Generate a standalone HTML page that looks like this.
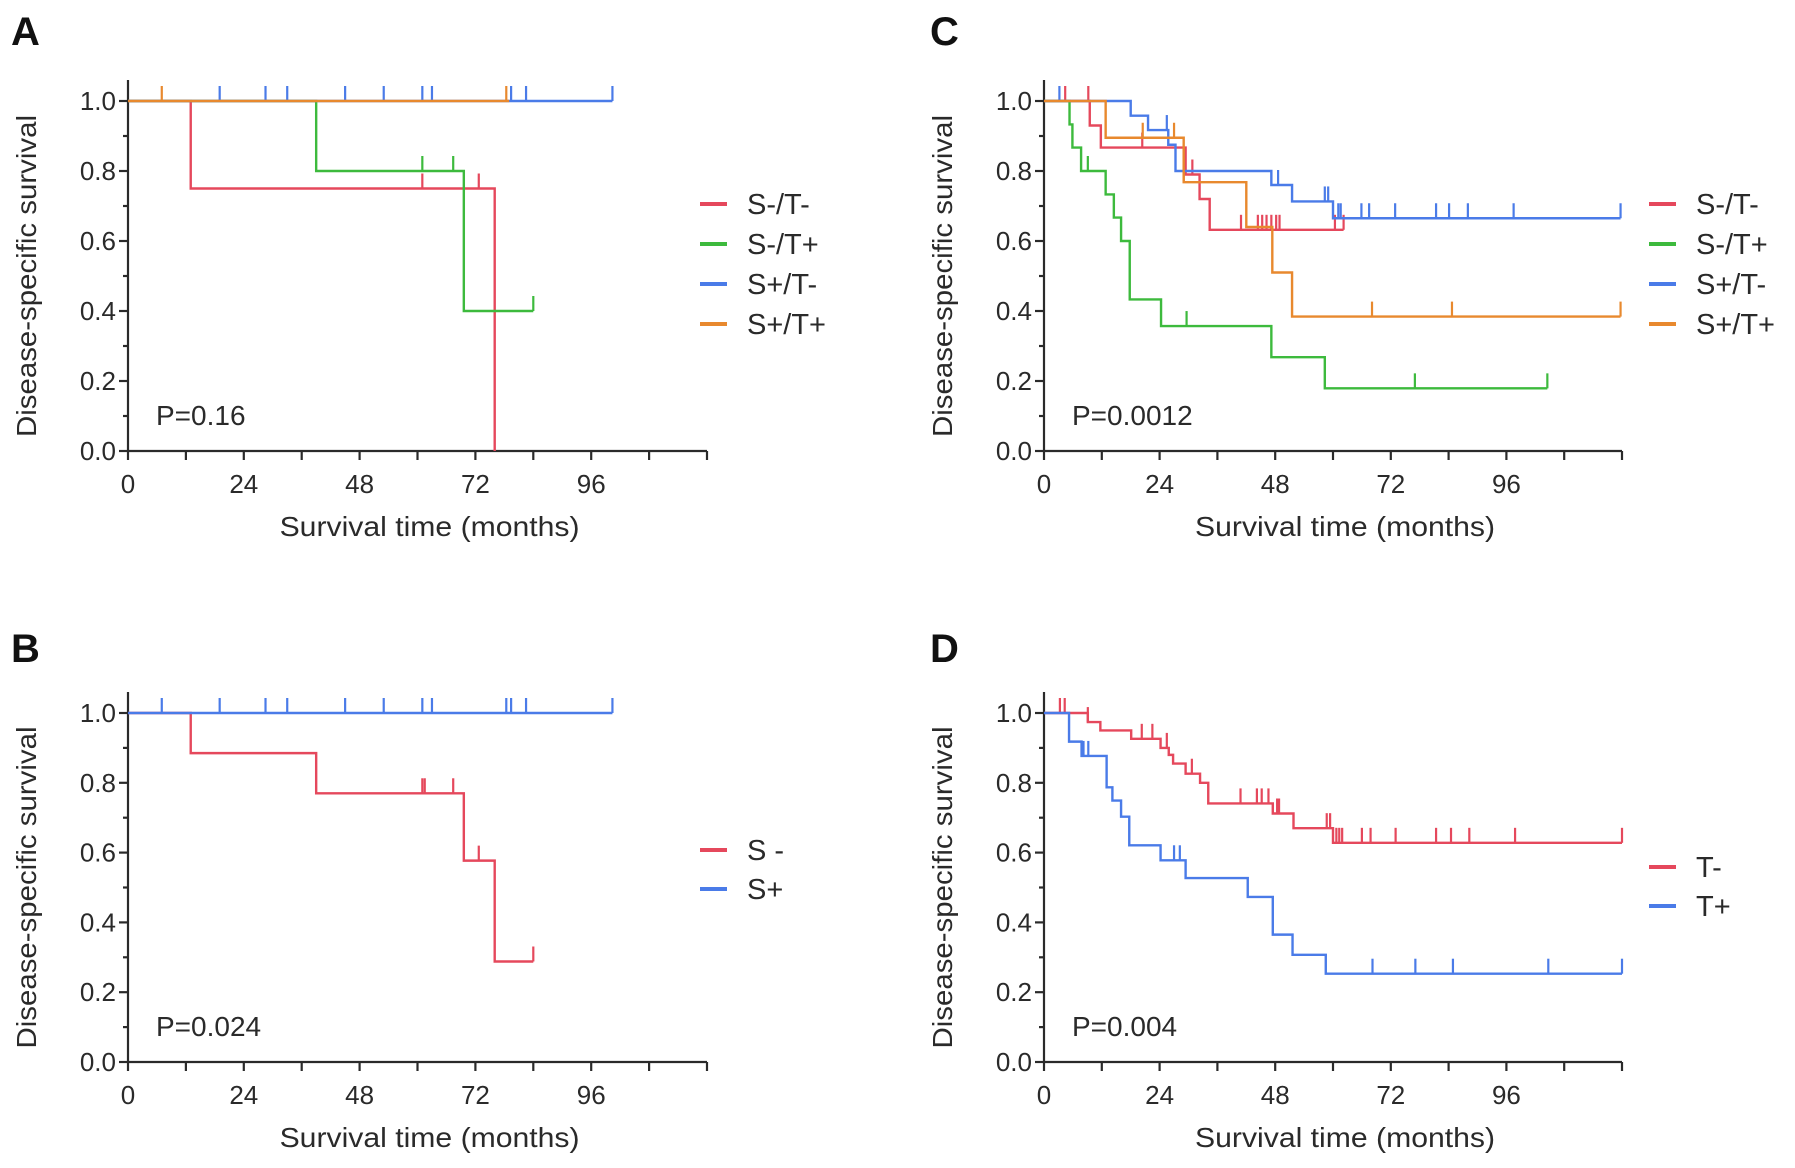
<!DOCTYPE html>
<html><head><meta charset="utf-8"><style>
html,body{margin:0;padding:0;background:#fff;}
svg{display:block;font-family:"Liberation Sans",sans-serif;}
</style></head><body>
<svg id="fig" width="1795" height="1168" viewBox="0 0 1795 1168" xmlns="http://www.w3.org/2000/svg"></svg>
<script>
// ---- data (months, survival) ----
const xTicks = [0, 24, 48, 72, 96];
const yTicks = [0.0, 0.2, 0.4, 0.6, 0.8, 1.0];
const yTickLabels = ["0.0", "0.2", "0.4", "0.6", "0.8", "1.0"];

// Panel A
const aRedT = [13, 76];           const aRedV = [0.75, 0.0];     const aRedEnd = 76;   const aRedC = [61, 72.7];
const aGreenT = [39, 69.6];       const aGreenV = [0.8, 0.4];    const aGreenEnd = 84; const aGreenC = [61, 67.4, 84];
const aBlueT = [];                const aBlueV = [];             const aBlueEnd = 100.4; const aBlueC = [19, 28.5, 33, 45, 53, 61, 63, 79.4, 82.5, 100.4];
const aOrangeT = [];              const aOrangeV = [];           const aOrangeEnd = 79; const aOrangeC = [7, 78.4];

// Panel B
const bRedT = [13, 39, 69.6, 76]; const bRedV = [0.885, 0.77, 0.577, 0.288]; const bRedEnd = 84; const bRedC = [61, 61.5, 67.4, 72.7, 84];
const bBlueT = [];                const bBlueV = [];             const bBlueEnd = 100.4; const bBlueC = [7, 19, 28.5, 33, 45, 53, 61, 63, 78.4, 79.4, 82.5, 100.4];

// Panel C
const cRedT = [9.5, 11.8, 29.4, 32.3, 34.4]; const cRedV = [0.93, 0.867, 0.79, 0.72, 0.632]; const cRedEnd = 62.2;
const cRedC = [4.4, 9.2, 20.4, 30.8, 40.9, 44.4, 45.3, 46.2, 47.2, 48.2, 48.9, 60.4, 62.2];
const cGreenT = [5.3, 5.9, 7.7, 12.8, 14.5, 16, 17.8, 24.3, 47.2, 58.3]; const cGreenV = [0.933, 0.867, 0.8, 0.733, 0.667, 0.6, 0.433, 0.357, 0.268, 0.179]; const cGreenEnd = 104.5;
const cGreenC = [9.1, 29.6, 77, 104.5];
const cBlueT = [18, 21.6, 25.8, 27.3, 47.2, 51.5, 60]; const cBlueV = [0.958, 0.917, 0.875, 0.8, 0.76, 0.713, 0.665]; const cBlueEnd = 119.7;
const cBlueC = [3.2, 25.5, 48.6, 58.3, 59, 61.1, 61.6, 65.9, 67.5, 72.9, 81.4, 84.1, 88, 97.5, 119.7];
const cOrangeT = [12.8, 29, 42, 47.4, 51.5]; const cOrangeV = [0.895, 0.768, 0.64, 0.51, 0.384]; const cOrangeEnd = 119.7;
const cOrangeC = [20.5, 27, 29, 68.1, 84.7, 119.7];

// Panel D
const dRedT = [9.1, 11.7, 18.1, 24.2, 25.9, 26.8, 29.4, 32.4, 34.1, 47.5, 51.8, 60];
const dRedV = [0.974, 0.95, 0.926, 0.9, 0.88, 0.855, 0.826, 0.8, 0.741, 0.712, 0.67, 0.628];
const dRedEnd = 120;
const dRedC = [3.3, 4.3, 9.1, 20.3, 22.5, 25.5, 30.7, 40.8, 44.2, 45.2, 46.6, 48.4, 48.8, 58.7, 59.4, 60.7, 61.3, 61.9, 66, 67.8, 73, 81.4, 84.5, 88.3, 97.8, 120];
const dBlueT = [5.2, 7.8, 13, 14.2, 16, 17.7, 24.2, 29.4, 42.3, 47.5, 51.6, 58.5];
const dBlueV = [0.918, 0.877, 0.787, 0.749, 0.703, 0.621, 0.578, 0.527, 0.473, 0.365, 0.307, 0.253];
const dBlueEnd = 120;
const dBlueC = [8.2, 9.2, 27, 28.2, 68.2, 77.1, 84.9, 104.7, 120];

const RED = "#e5485c", GREEN = "#3dba3d", BLUE = "#4a7be8", ORANGE = "#e8892e";

const NS = "http://www.w3.org/2000/svg";
const svg = document.getElementById("fig");
function mk(tag, attrs, parent) {
  const e = document.createElementNS(NS, tag);
  for (const k in attrs) e.setAttribute(k, attrs[k]);
  (parent || svg).appendChild(e);
  return e;
}

function panel(cfg) {
  const g = mk("g", {});
  
  
  const sx = m => cfg.x0 + m / 120 * cfg.xw;
  const sy = v => cfg.y0 - v * (cfg.y0 - cfg.y1);
  const ink = "#2a2a2a";
  const L = mk("text", {x: cfg.lx, y: cfg.ly, "font-size": 40, "font-weight": "bold", fill: "#111"}, g);
  L.textContent = cfg.letter;
  
  
  const ya = mk("line", {x1: cfg.x0, x2: cfg.x0, y1: sy(1.06), y2: cfg.y0, stroke: ink, "stroke-width": 2.2}, g);
  
  
  const xa = mk("line", {x1: cfg.x0, x2: sx(120), y1: cfg.y0, y2: cfg.y0, stroke: ink, "stroke-width": 2.2}, g);
  
  
  for (let m = 0; m <= 120; m += 12) {
    mk("line", {x1: sx(m), x2: sx(m), y1: cfg.y0, y2: cfg.y0 + 9, stroke: ink, "stroke-width": 2.2}, g);
  }
  xTicks.forEach(t => {
    const tx = mk("text", {x: sx(t), y: cfg.y0 + 42, "font-size": 26, "text-anchor": "middle", fill: ink}, g);
    tx.textContent = t;
    
    
  });
  for (let i = 0; i <= 10; i++) {
    const v = i / 10;
    mk("line", {x1: cfg.x0 - (i % 2 ? 5 : 9), x2: cfg.x0, y1: sy(v), y2: sy(v), stroke: ink, "stroke-width": 2.2}, g);
  }
  yTicks.forEach((v, i) => {
    const ty = mk("text", {x: cfg.x0 - 12, y: sy(v) + 9, "font-size": 26, "text-anchor": "end", fill: ink}, g);
    ty.textContent = yTickLabels[i];
    
    
  });
  const xt = mk("text", {x: sx(62.5), y: cfg.y0 + 85, "font-size": 28, "text-anchor": "middle", fill: ink, textLength: 300, lengthAdjust: "spacingAndGlyphs"}, g);
  xt.textContent = "Survival time (months)";
  
  
  const cy = (cfg.y0 + sy(1)) / 2;
  const yt = mk("text", {x: 0, y: 0, "font-size": 28, "text-anchor": "middle", fill: ink, textLength: 322, lengthAdjust: "spacingAndGlyphs", transform: `translate(${cfg.x0 - 92},${cy}) rotate(-90)`}, g);
  yt.textContent = "Disease-specific survival";
  
  
  const p = mk("text", {x: cfg.x0 + 28, y: cfg.y0 - 26, "font-size": 28, fill: ink}, g);
  p.textContent = cfg.p;
  
  
  cfg.series.forEach((s, si) => {
    const val = m => { let v = 1; s.t.forEach((t, i) => { if (t <= m) v = s.v[i]; }); return v; };
    let d = `M${sx(0)},${sy(1)}`;
    s.t.forEach((t, i) => { d += ` H${sx(t)} V${sy(s.v[i])}`; });
    d += ` H${sx(s.end)}`;
    const path = mk("path", {d: d, fill: "none", stroke: s.color, "stroke-width": 2.4}, g);
    
    
    s.c.forEach(m => {
      const v = val(m);
      const c = mk("line", {x1: sx(m), x2: sx(m), y1: sy(v), y2: sy(v) - 15, stroke: s.color, "stroke-width": 2.2}, g);
      
      
    });
    const ly = cfg.legY + si * cfg.legDy;
    const ll = mk("line", {x1: cfg.legX, x2: cfg.legX + 27, y1: ly, y2: ly, stroke: s.color, "stroke-width": 4}, g);
    
    
    const lt = mk("text", {x: cfg.legX + 47, y: ly + 10, "font-size": 29, fill: ink}, g);
    lt.textContent = s.label;
    
    
  });
}

panel({letter: "A", lx: 11, ly: 45, x0: 128, xw: 579, y1: 101, y0: 451, p: "P=0.16",
  legX: 700, legY: 204, legDy: 40, series: [
  {key: "s-neg-t-neg", label: "S-/T-", color: RED, t: aRedT, v: aRedV, end: aRedEnd, c: aRedC},
  {key: "s-neg-t-pos", label: "S-/T+", color: GREEN, t: aGreenT, v: aGreenV, end: aGreenEnd, c: aGreenC},
  {key: "s-pos-t-neg", label: "S+/T-", color: BLUE, t: aBlueT, v: aBlueV, end: aBlueEnd, c: aBlueC},
  {key: "s-pos-t-pos", label: "S+/T+", color: ORANGE, t: aOrangeT, v: aOrangeV, end: aOrangeEnd, c: aOrangeC}]});
panel({letter: "B", lx: 11, ly: 662, x0: 128, xw: 579, y1: 713, y0: 1062, p: "P=0.024",
  legX: 700, legY: 850, legDy: 39, series: [
  {key: "s-neg", label: "S -", color: RED, t: bRedT, v: bRedV, end: bRedEnd, c: bRedC},
  {key: "s-pos", label: "S+", color: BLUE, t: bBlueT, v: bBlueV, end: bBlueEnd, c: bBlueC}]});
panel({letter: "C", lx: 930, ly: 45, x0: 1044, xw: 578, y1: 101, y0: 451, p: "P=0.0012",
  legX: 1649, legY: 204, legDy: 40, series: [
  {key: "s-neg-t-neg", label: "S-/T-", color: RED, t: cRedT, v: cRedV, end: cRedEnd, c: cRedC},
  {key: "s-neg-t-pos", label: "S-/T+", color: GREEN, t: cGreenT, v: cGreenV, end: cGreenEnd, c: cGreenC},
  {key: "s-pos-t-neg", label: "S+/T-", color: BLUE, t: cBlueT, v: cBlueV, end: cBlueEnd, c: cBlueC},
  {key: "s-pos-t-pos", label: "S+/T+", color: ORANGE, t: cOrangeT, v: cOrangeV, end: cOrangeEnd, c: cOrangeC}]});
panel({letter: "D", lx: 930, ly: 662, x0: 1044, xw: 578, y1: 713, y0: 1062, p: "P=0.004",
  legX: 1649, legY: 867, legDy: 39, series: [
  {key: "t-neg", label: "T-", color: RED, t: dRedT, v: dRedV, end: dRedEnd, c: dRedC},
  {key: "t-pos", label: "T+", color: BLUE, t: dBlueT, v: dBlueV, end: dBlueEnd, c: dBlueC}]});
</script>
</body></html>
